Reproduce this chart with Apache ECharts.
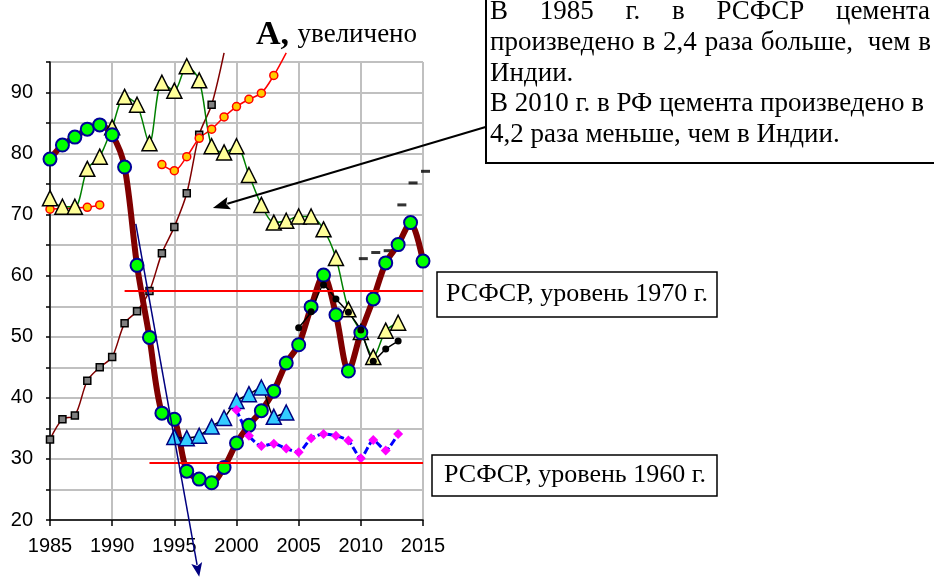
<!DOCTYPE html>
<html>
<head>
<meta charset="utf-8">
<script src="https://cdn.jsdelivr.net/npm/echarts@6/dist/echarts.min.js"></script>
<style>
  html, body { margin: 0; padding: 0; background: #fff; }
  #chart { width: 934px; height: 578px; }
</style>
</head>
<body>
<div id="chart"></div>
<script>
// значения (первая точка каждого ряда — год start)
const rfStart = 1985;
const rfCement = [79.1, 81.4, 82.7, 84.0, 84.7, 83.1, 77.8, 61.7, 49.9, 37.5, 36.5, 28.0, 26.7, 26.1, 28.6,
  32.6, 35.5, 37.9, 41.1, 45.7, 48.7, 54.9, 60.1, 53.6, 44.4, 50.7, 56.2, 62.1, 65.1, 68.7, 62.4];

const yellowStart = 1985;
const yellowTri = [72.7, 71.3, 71.3, 77.5, 79.5, 84.3, 89.3, 88.0, 81.7, 91.6, 90.3, 94.3, 92.0, 81.2, 80.2,
  81.2, 76.5, 71.6, 68.7, 69.0, 69.7, 69.7, 67.6, 62.9, 54.5, 50.8, 46.7, 51.0, 52.3];

const redDotsAStart = 1985;
const redDotsA = [70.9, 71.0, 71.1, 71.2, 71.6];
const redDotsBStart = 1994;
const redDotsB = [78.2, 77.2, 79.5, 82.5, 84.0, 86.0, 87.7, 88.9, 89.9, 92.8, 96.5];

const squaresStart = 1985;
const squares = [33.2, 36.5, 37.1, 42.8, 45.0, 46.7, 52.2, 54.2, 57.5, 63.7, 68.0, 73.5, 83.1, 88.0, 96.5];

const cyanStart = 1995;
const cyanTri = [33.6, 33.4, 33.8, 35.3, 36.7, 39.5, 40.6, 41.7, 36.9, 37.6];

const diamondStart = 2000;
const diamonds = [38.0, 33.8, 32.1, 32.5, 31.7, 31.1, 33.4, 34.1, 33.8, 33.0, 30.1, 33.1, 31.4, 34.1];

const blackStart = 2005;
const blackDots = [51.5, 54.1, 58.5, 56.2, 54.0, 51.1, 46.0, 48.0, 49.3];

const dashYears = [2010.2, 2011.2, 2012.2, 2013.3, 2014.2, 2015.2];
const dashValues = [62.8, 63.8, 64.1, 71.6, 75.2, 77.1];

const level1970 = { from: 1991, to: 2015, value: 57.6 };
const level1960 = { from: 1993, to: 2015, value: 29.45 };

// стрелки: [откуда], [куда] в координатах графика
const blueArrow = [[1991.9, 68.5], [1997.0, 10.7]];
const noteArrow = [[2020.1, 84.4], [1998.1, 71.1]];

const xTicks = { min: 1985, max: 2015, step: 5 };
const yTicks = { min: 20, max: 95, step: 5 };

const serif = '"Liberation Serif", "Times New Roman", serif';
const sans = '"Liberation Sans", Arial, sans-serif';

function pts(start, vals) {
  return vals.map(function (v, i) {
    const item = { value: [start + i, v] };
    if (v > yTicks.max) item.symbol = 'none'; // за краем графика маркер не виден
    return item;
  });
}

// выравнивание строки по ширине (как в Word)
const ctx = document.createElement('canvas').getContext('2d');
function justify(words, left, right, y, font) {
  ctx.font = font;
  const widths = words.map(w => ctx.measureText(w).width);
  const total = widths.reduce((a, b) => a + b, 0);
  const gap = (right - left - total) / (words.length - 1);
  let x = left;
  return words.map(function (w, i) {
    const el = { type: 'text', x: x, y: y, style: { text: w, font: font, fill: '#000', textVerticalAlign: 'middle', verticalAlign: 'middle' } };
    x += widths[i] + gap;
    return el;
  });
}

function textAt(x, y, text, font, center) {
  const st = { text: text, font: font, fill: '#000', textVerticalAlign: 'middle', verticalAlign: 'middle' };
  if (center) { st.textAlign = 'center'; st.align = 'center'; }
  return { type: 'text', x: x, y: y, style: st };
}

const chart = echarts.init(document.getElementById('chart'));
const boxFont = '27px ' + serif;
const lineFont = '26px ' + serif;

let graphic = [
  { type: 'text', left: 256, top: 18,
    style: { text: '{b|А, }{n|увеличено}', rich: {
      b: { font: 'bold 34px ' + serif, fill: '#000' },
      n: { font: '27px ' + serif, fill: '#000' } } } },
  { type: 'rect', shape: { x: 486, y: -4, width: 460, height: 167 },
    style: { fill: '#fff', stroke: '#000', lineWidth: 2 } }
];
graphic = graphic.concat(justify(['В', '1985', 'г.', 'в', 'РСФСР', 'цемента'], 490, 930, 12, boxFont));
graphic = graphic.concat(justify(['произведено', 'в', '2,4', 'раза', 'больше,', ' чем', 'в'], 490, 931, 43, boxFont));
graphic.push(
  textAt(490, 74, 'Индии.', boxFont),
  textAt(490, 104, 'В 2010 г. в РФ цемента произведено в', boxFont),
  textAt(490, 135, '4,2 раза меньше, чем в Индии.', boxFont),
  { type: 'rect', shape: { x: 437, y: 272, width: 280, height: 45 },
    style: { fill: '#fff', stroke: '#000', lineWidth: 1.5 } },
  textAt(577, 294, 'РСФСР, уровень 1970 г.', lineFont, true),
  { type: 'rect', shape: { x: 432, y: 455, width: 285, height: 41 },
    style: { fill: '#fff', stroke: '#000', lineWidth: 1.5 } },
  textAt(575, 475, 'РСФСР, уровень 1960 г.', lineFont, true)
);

const option = {
  animation: false,
  backgroundColor: '#fff',
  grid: { left: 50, right: 511, top: 62, bottom: 58 },
  xAxis: {
    type: 'value', min: xTicks.min, max: xTicks.max, interval: xTicks.step,
    axisLine: { lineStyle: { color: '#000', width: 1.5 } },
    axisTick: { length: 6, lineStyle: { color: '#000', width: 1.5 } },
    axisLabel: { color: '#000', fontFamily: sans, fontSize: 20, margin: 16, formatter: v => String(v) },
    splitLine: { lineStyle: { color: '#c0c0c0', width: 2 } }
  },
  yAxis: {
    type: 'value', min: yTicks.min, max: yTicks.max, interval: yTicks.step,
    axisLine: { show: true, lineStyle: { color: '#000', width: 1.5 } },
    axisTick: { show: true, length: 4, lineStyle: { color: '#000', width: 1.5 } },
    axisLabel: { color: '#000', fontFamily: sans, fontSize: 20, margin: 17,
      formatter: v => (v % 10 === 0 ? String(v) : '') },
    splitLine: { lineStyle: { color: '#c0c0c0', width: 2 } }
  },
  graphic: graphic,
  series: [
    { // серые квадраты
      type: 'line', data: pts(squaresStart, squares), smooth: 0.3, clip: false,
      symbol: 'rect', symbolSize: 7,
      lineStyle: { color: '#800000', width: 1.5 },
      itemStyle: { color: '#808080', borderColor: '#000', borderWidth: 1.5 }
    },
    {
      type: 'line', data: pts(redDotsAStart, redDotsA), smooth: 0.3,
      symbol: 'circle', symbolSize: 8,
      lineStyle: { color: '#ff0000', width: 1.5 },
      itemStyle: { color: '#ffcc00', borderColor: '#ff0000', borderWidth: 1.5 }
    },
    {
      type: 'line', data: pts(redDotsBStart, redDotsB), smooth: 0.3, clip: false,
      symbol: 'circle', symbolSize: 8,
      lineStyle: { color: '#ff0000', width: 1.5 },
      itemStyle: { color: '#ffcc00', borderColor: '#ff0000', borderWidth: 1.5 }
    },
    { // жёлтые треугольники
      type: 'line', data: pts(yellowStart, yellowTri), smooth: 0.3,
      symbol: 'triangle', symbolSize: 15,
      lineStyle: { color: '#008000', width: 1.5 },
      itemStyle: { color: '#ffff99', borderColor: '#000', borderWidth: 1.5 }
    },
    { // РСФСР / РФ
      type: 'line', data: pts(rfStart, rfCement), smooth: 0.3,
      symbol: 'circle', symbolSize: 13,
      lineStyle: { color: '#800000', width: 6 },
      itemStyle: { color: '#00ff00', borderColor: '#000099', borderWidth: 2 }
    },
    {
      type: 'line', data: pts(cyanStart, cyanTri), smooth: 0.2,
      symbol: 'triangle', symbolSize: 15,
      lineStyle: { color: '#000', width: 1.5 },
      itemStyle: { color: '#33ccff', borderColor: '#000080', borderWidth: 1.5 }
    },
    {
      type: 'line', data: pts(diamondStart, diamonds), smooth: 0.2,
      symbol: 'diamond', symbolSize: 10,
      lineStyle: { color: '#0000ff', width: 3, type: [7, 3] },
      itemStyle: { color: '#ff00ff' }
    },
    {
      type: 'line', data: pts(blackStart, blackDots), smooth: 0.2,
      symbol: 'circle', symbolSize: 7,
      lineStyle: { color: '#000', width: 1.5 },
      itemStyle: { color: '#000' }
    },
    {
      type: 'scatter', clip: false,
      data: dashYears.map((y, i) => [y, dashValues[i]]),
      symbol: 'rect', symbolSize: [9, 3],
      itemStyle: { color: '#000' }
    },
    { // уровни 1970 и 1960 гг.
      type: 'line', data: [], silent: true,
      markLine: {
        silent: true, label: { show: false }, symbol: ['none', 'none'],
        lineStyle: { color: '#ff0000', width: 2, type: 'solid' },
        data: [
          [{ coord: [level1970.from, level1970.value] }, { coord: [level1970.to, level1970.value] }],
          [{ coord: [level1960.from, level1960.value] }, { coord: [level1960.to, level1960.value] }]
        ]
      }
    }
  ]
};
chart.setOption(option);

// стрелки выходят за пределы осей, поэтому рисуем их графикой по координатам графика
function arrow(pair, color, width, headLen, headW) {
  const p0 = chart.convertToPixel({ gridIndex: 0 }, pair[0]);
  const p1 = chart.convertToPixel({ gridIndex: 0 }, pair[1]);
  const ang = Math.atan2(p1[1] - p0[1], p1[0] - p0[0]);
  const bx = p1[0] - headLen * Math.cos(ang), by = p1[1] - headLen * Math.sin(ang);
  const nx = -Math.sin(ang) * headW / 2, ny = Math.cos(ang) * headW / 2;
  return [
    { type: 'line', shape: { x1: p0[0], y1: p0[1], x2: bx + 2 * Math.cos(ang), y2: by + 2 * Math.sin(ang) },
      style: { stroke: color, lineWidth: width }, z: 10 },
    { type: 'polygon', shape: { points: [[p1[0], p1[1]], [bx + nx, by + ny], [bx + 3 * Math.cos(ang), by + 3 * Math.sin(ang)], [bx - nx, by - ny]] },
      style: { fill: color }, z: 10 }
  ];
}
graphic = graphic.concat(arrow(blueArrow, '#000080', 1.5, 14, 11), arrow(noteArrow, '#000', 2, 17, 13));
chart.setOption({ graphic: graphic });
</script>
</body>
</html>
